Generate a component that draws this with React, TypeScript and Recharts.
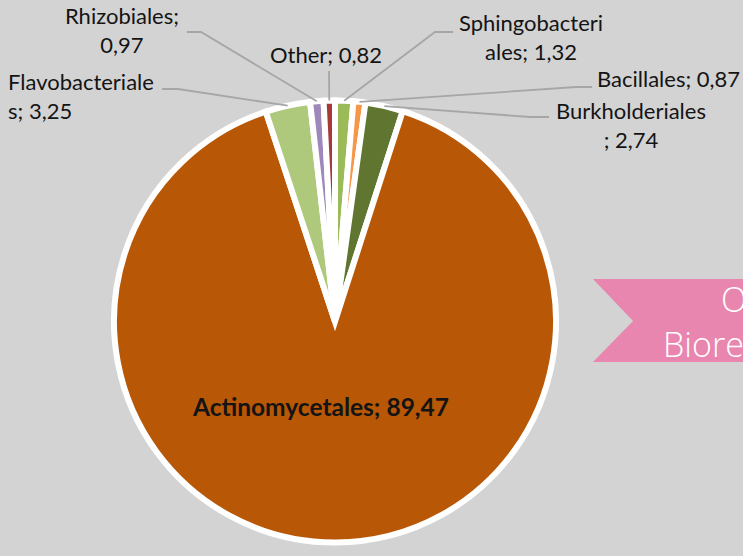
import React from "react"
import { PieChart, Pie, Cell } from "recharts"

// slice order follows the chart: clockwise from 12 o'clock
const categories = [
  "Sphingobacteriales",
  "Bacillales",
  "Burkholderiales",
  "Actinomycetales",
  "Flavobacteriales",
  "Rhizobiales",
  "Other",
]
const values = [1.32, 0.87, 2.74, 89.47, 3.25, 0.97, 0.82]
const colors = ["#9bbb59", "#f79646", "#5f7530", "#b85705", "#aec97c", "#9d87bb", "#a8393b"]

const titleLines = ["Ordo", "Bioremediasi"]

// where each data label sits (Excel-style manual placement)
const labelLayout = [
  { x: 531, y: 31, anchor: "middle", split: 14, elbow: [435, 32], end: [453, 32] },
  { x: 597, y: 87, anchor: "start", split: 0, elbow: [576, 87], end: [592, 87] },
  { x: 631, y: 119, anchor: "middle", split: 15, elbow: [530, 117], end: [549, 117] },
  { x: 321, y: 416, anchor: "middle", split: 0, inside: true },
  { x: 8, y: 90, anchor: "start", split: 15, elbow: [178, 89], end: [162, 89] },
  { x: 122, y: 24, anchor: "middle", split: 12, elbow: [201, 32], end: [187, 32] },
  { x: 326, y: 63, anchor: "middle", split: 0, end: [329, 71] },
]

const data = categories.map((name, i) => ({ name, value: values[i] }))

const RAD = Math.PI / 180
const LINE_H = 28.5

function renderLabel(props: any) {
  const { cx, cy, midAngle, outerRadius, index, name, value } = props
  const lay = labelLayout[index]
  const text = `${name}; ${value.toFixed(2).replace(".", ",")}`
  const lines = lay.split ? [text.slice(0, lay.split).trim(), text.slice(lay.split).trim()] : [text]

  let leader = null
  if (!lay.inside) {
    const sx = cx + outerRadius * Math.cos(-midAngle * RAD)
    const sy = cy + outerRadius * Math.sin(-midAngle * RAD)
    const pts = [[sx, sy]]
    if (lay.elbow) pts.push(lay.elbow)
    pts.push(lay.end)
    leader = (
      <polyline
        points={pts.map((p) => p.join(",")).join(" ")}
        fill="none"
        stroke="#a6a6a6"
        strokeWidth={1.8}
      />
    )
  }

  return (
    <g key={`lbl-${index}`}>
      {leader}
      <text
        x={lay.x}
        y={lay.y}
        textAnchor={lay.anchor}
        fill="#141414"
        fontFamily="Lato, 'Open Sans', sans-serif"
        fontSize={lay.inside ? 24.5 : 22}
        fontWeight={lay.inside ? 700 : 400}
      >
        {lines.map((l, k) => (
          <tspan key={k} x={lay.x} dy={k === 0 ? 0 : LINE_H}>
            {l}
          </tspan>
        ))}
      </text>
    </g>
  )
}

export default function App() {
  return (
    <div
      style={{
        position: "fixed",
        left: 0,
        top: 0,
        width: 743,
        height: 556,
        overflow: "hidden",
        background: "#d3d3d3",
      }}
    >
      <PieChart width={743} height={556} margin={{ top: 0, right: 0, bottom: 0, left: 0 }}>
        <Pie
          data={data}
          dataKey="value"
          nameKey="name"
          cx={335}
          cy={321.5}
          outerRadius={221}
          startAngle={90}
          endAngle={-270}
          stroke="#ffffff"
          strokeWidth={6}
          label={renderLabel}
          labelLine={false}
          isAnimationActive={false}
        >
          {data.map((d, i) => (
            <Cell key={d.name} fill={colors[i]} />
          ))}
        </Pie>
      </PieChart>

      {/* pink ribbon title, cut off by the right edge as in the source slide */}
      <svg width={743} height={556} style={{ position: "absolute", left: 0, top: 0, pointerEvents: "none" }}>
        <polygon points="593,279 760,279 760,362 593,362 633,321" fill="#e886b0" />
        <text fill="#ffffff" fontFamily="'Open Sans', Lato, sans-serif" fontWeight={300} fontSize={34}>
          <tspan x={721} y={312}>
            {titleLines[0]}
          </tspan>
          <tspan x={663} y={357}>
            {titleLines[1]}
          </tspan>
        </text>
      </svg>
    </div>
  )
}
